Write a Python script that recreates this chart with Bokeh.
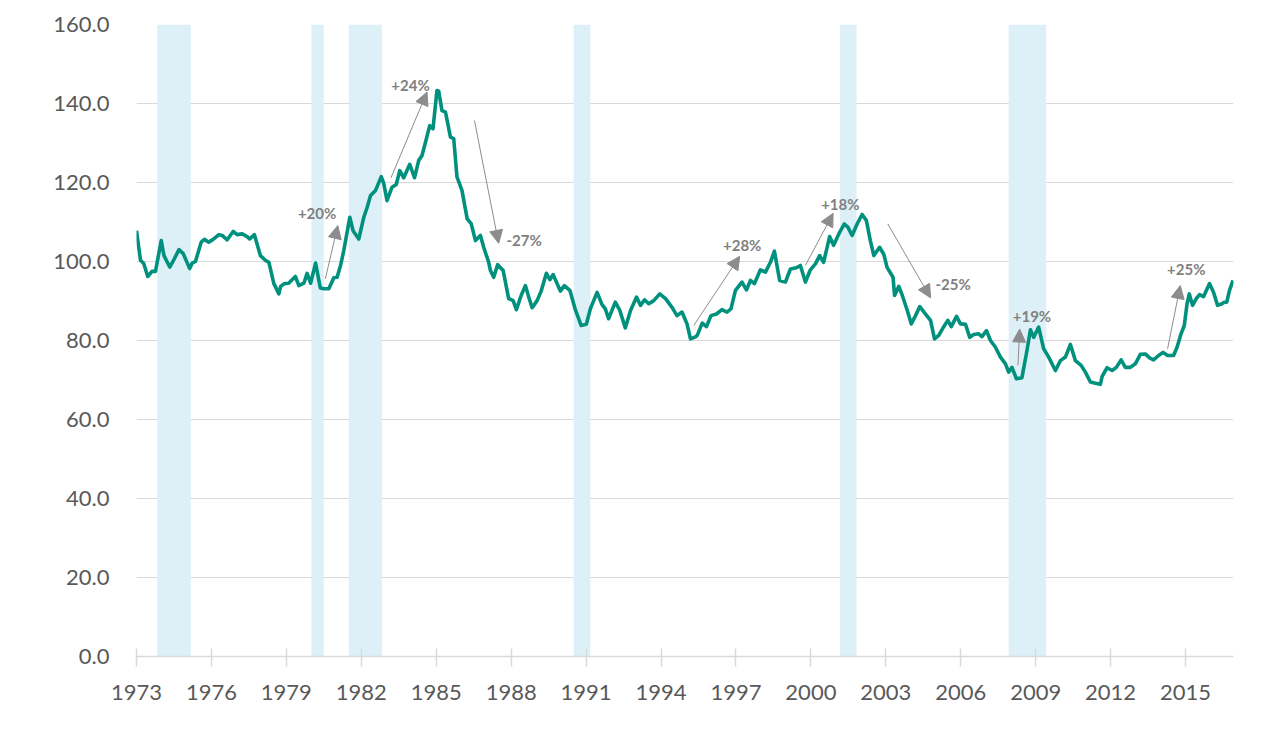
from bokeh.plotting import figure
from bokeh.models import ColumnDataSource, FixedTicker, Arrow, NormalHead, BoxAnnotation, CustomJSTickFormatter
from bokeh.core.properties import value
from bokeh.embed import file_html
from bokeh.resources import INLINE

# ---- data ----
dates = [1973.00, 1973.16, 1973.29, 1973.45, 1973.62, 1973.76, 1973.99, 1974.10, 1974.33, 1974.50,
         1974.70, 1974.87, 1975.13, 1975.23, 1975.36, 1975.59, 1975.72, 1975.89, 1976.07, 1976.30,
         1976.43, 1976.63, 1976.87, 1977.03, 1977.23, 1977.43, 1977.53, 1977.72, 1977.96, 1978.16,
         1978.30, 1978.50, 1978.70, 1978.77, 1978.92, 1979.09, 1979.36, 1979.50, 1979.70, 1979.83,
         1979.97, 1980.17, 1980.36, 1980.50, 1980.70, 1980.90, 1981.03, 1981.17, 1981.30, 1981.54,
         1981.67, 1981.90, 1982.10, 1982.23, 1982.37, 1982.57, 1982.80, 1982.90, 1983.03, 1983.23,
         1983.40, 1983.54, 1983.70, 1983.94, 1984.13, 1984.30, 1984.43, 1984.57, 1984.74, 1984.87,
         1985.03, 1985.10, 1985.23, 1985.37, 1985.57, 1985.70, 1985.83, 1986.03, 1986.24, 1986.40,
         1986.57, 1986.77, 1986.90, 1987.10, 1987.17, 1987.30, 1987.46, 1987.68, 1987.90, 1988.08,
         1988.21, 1988.40, 1988.57, 1988.70, 1988.84, 1989.04, 1989.20, 1989.41, 1989.55, 1989.68,
         1989.84, 1989.97, 1990.13, 1990.35, 1990.57, 1990.80, 1991.01, 1991.17, 1991.44, 1991.64,
         1991.77, 1991.90, 1992.17, 1992.35, 1992.57, 1992.78, 1993.02, 1993.18, 1993.34, 1993.51,
         1993.71, 1993.95, 1994.18, 1994.44, 1994.64, 1994.84, 1995.04, 1995.18, 1995.38, 1995.45,
         1995.65, 1995.82, 1996.00, 1996.22, 1996.44, 1996.64, 1996.80, 1996.98, 1997.24, 1997.42,
         1997.58, 1997.74, 1997.98, 1998.18, 1998.38, 1998.54, 1998.75, 1998.98, 1999.18, 1999.42,
         1999.58, 1999.78, 1999.98, 2000.18, 2000.35, 2000.51, 2000.75, 2000.91, 2001.15, 2001.34,
         2001.48, 2001.65, 2001.85, 2002.05, 2002.22, 2002.38, 2002.52, 2002.75, 2002.92, 2003.05,
         2003.29, 2003.35, 2003.52, 2003.66, 2003.86, 2004.02, 2004.19, 2004.36, 2004.59, 2004.79,
         2004.95, 2005.12, 2005.32, 2005.48, 2005.62, 2005.83, 2005.99, 2006.19, 2006.36, 2006.52,
         2006.72, 2006.85, 2007.03, 2007.19, 2007.39, 2007.59, 2007.79, 2007.92, 2008.05, 2008.23,
         2008.45, 2008.63, 2008.79, 2008.92, 2009.12, 2009.32, 2009.52, 2009.79, 2009.99, 2010.19,
         2010.39, 2010.59, 2010.82, 2010.99, 2011.19, 2011.39, 2011.59, 2011.66, 2011.86, 2012.06,
         2012.23, 2012.42, 2012.59, 2012.79, 2012.99, 2013.19, 2013.39, 2013.56, 2013.72, 2013.92,
         2014.10, 2014.28, 2014.52, 2014.66, 2014.82, 2014.95, 2015.06, 2015.15, 2015.28, 2015.43,
         2015.56, 2015.72, 2015.96, 2016.12, 2016.28, 2016.46, 2016.55, 2016.65, 2016.76, 2016.90]

index_values = [107.8, 100.3, 99.5, 96.2, 97.5, 97.5, 105.3, 101.5, 98.6, 100.5,
                103.0, 102.0, 98.2, 99.6, 100.0, 104.9, 105.6, 104.9, 105.6, 106.8,
                106.6, 105.5, 107.6, 106.8, 107.0, 106.3, 105.7, 106.8, 101.5, 100.3,
                99.8, 94.4, 91.8, 93.7, 94.4, 94.5, 96.2, 93.9, 94.5, 97.0,
                94.5, 99.6, 93.3, 93.1, 93.1, 95.9, 96.0, 99.0, 102.8, 111.2,
                107.8, 105.7, 111.2, 113.6, 116.7, 118.0, 121.5, 119.7, 115.4, 118.8,
                119.5, 123.0, 121.2, 124.6, 121.2, 125.6, 126.8, 130.2, 134.4, 133.6,
                143.3, 143.1, 138.2, 137.8, 131.5, 131.1, 121.4, 118.0, 110.8, 109.6,
                105.3, 106.6, 103.6, 99.8, 97.7, 96.0, 99.2, 97.7, 90.6, 90.1,
                87.8, 91.4, 93.9, 91.1, 88.3, 90.1, 92.5, 97.0, 95.4, 96.7,
                94.4, 92.5, 93.9, 92.7, 87.8, 83.8, 84.1, 88.0, 92.2, 89.1,
                88.0, 85.5, 89.7, 87.6, 83.2, 87.6, 91.0, 88.9, 90.3, 89.3,
                90.1, 91.8, 90.6, 88.4, 86.3, 87.2, 84.2, 80.4, 80.9, 81.3,
                84.4, 83.5, 86.3, 86.7, 87.8, 87.2, 88.0, 92.7, 94.8, 92.8,
                95.2, 94.4, 97.9, 97.3, 99.8, 102.6, 95.2, 94.8, 98.1, 98.4,
                99.0, 94.8, 97.9, 99.4, 101.5, 99.8, 106.3, 104.1, 107.4, 109.5,
                108.7, 106.6, 109.5, 111.9, 110.4, 105.3, 101.5, 103.6, 101.8, 98.5,
                96.0, 91.4, 93.7, 91.4, 87.6, 84.2, 86.3, 88.6, 86.7, 85.1,
                80.4, 81.3, 83.5, 85.1, 83.5, 86.1, 84.2, 84.1, 80.8, 81.5,
                81.7, 81.0, 82.5, 80.0, 78.3, 75.8, 74.1, 72.0, 73.2, 70.3,
                70.6, 76.7, 82.7, 80.8, 83.4, 77.9, 75.8, 72.4, 74.9, 75.8,
                79.0, 74.9, 73.7, 72.0, 69.5, 69.2, 68.9, 70.9, 73.1, 72.4,
                73.2, 75.1, 73.2, 73.2, 74.1, 76.5, 76.6, 75.6, 75.1, 76.2,
                77.0, 76.2, 76.2, 78.3, 81.7, 83.8, 89.3, 91.8, 88.9, 90.6,
                91.6, 91.1, 94.4, 92.2, 88.9, 89.3, 89.7, 89.7, 92.7, 95.2]

# recession periods (start, end) in decimal years
recession_start = [1973.83, 1980.00, 1981.50, 1990.50, 2001.17, 2007.92]
recession_end = [1975.17, 1980.50, 1982.83, 1991.17, 2001.83, 2009.42]

# annotated moves
move_labels = ["+20%", "+24%", "-27%", "+28%", "+18%", "-25%", "+19%", "+25%"]
arrow_from_x = [1980.56, 1983.19, 1986.53, 1995.31, 1999.78, 2003.08, 2008.29, 2014.28]
arrow_from_y = [95.6, 121.2, 135.7, 83.8, 99.0, 109.5, 73.7, 77.9]
arrow_to_x = [1981.06, 1984.63, 1987.50, 1997.15, 2000.89, 2004.79, 2008.36, 2014.79]
arrow_to_y = [109.1, 142.9, 104.6, 101.3, 112.2, 90.8, 82.9, 93.9]
label_x = [1980.23, 1983.97, 1987.81, 1997.25, 2001.18, 2004.99, 2008.85, 2015.03]
label_y = [112.2, 144.8, 105.5, 104.1, 114.6, 94.2, 86.3, 98.1]
label_align = ["center", "center", "left", "center", "center", "left", "center", "center"]

x_ticks = [1973, 1976, 1979, 1982, 1985, 1988, 1991, 1994, 1997, 2000, 2003, 2006, 2009, 2012, 2015]
y_ticks = [0, 20, 40, 60, 80, 100, 120, 140, 160]

FONT = "Lato"
TEXT_COLOR = "#595959"
GRID_COLOR = "#d9d9d9"

p = figure(width=1250, height=718, x_range=(1973, 2016.92), y_range=(0, 160),
           output_backend="svg", toolbar_location=None,
           min_border_left=136, min_border_right=17, min_border_top=24, min_border_bottom=62)
p.outline_line_color = None
p.background_fill_color = "white"
p.border_fill_color = "white"

for s, e in zip(recession_start, recession_end):
    p.add_layout(BoxAnnotation(left=s, right=e, fill_color="#ddf0f7", fill_alpha=1.0,
                               line_color=None, level="underlay"))

src = ColumnDataSource(dict(x=dates, y=index_values))
p.line("x", "y", source=src, line_color="#00917e", line_width=3.6, line_join="round")

arrow_src = ColumnDataSource(dict(x0=arrow_from_x, y0=arrow_from_y, x1=arrow_to_x, y1=arrow_to_y))
p.add_layout(Arrow(x_start="x0", y_start="y0", x_end="x1", y_end="y1", source=arrow_src,
                   line_color="#8c8c8c", line_width=1,
                   end=NormalHead(size=13, fill_color="#8c8c8c", line_color="#8c8c8c")))

lab_src = ColumnDataSource(dict(x=label_x, y=label_y, t=move_labels, a=label_align))
p.text("x", "y", text="t", source=lab_src, text_align="a", text_baseline="middle",
       text_font=value(FONT), text_font_size="15px", text_font_style="bold",
       text_color="#808080")

# axes
p.xaxis.ticker = FixedTicker(ticks=x_ticks)
p.xaxis.formatter = CustomJSTickFormatter(code="return tick.toFixed(0);")
p.xaxis.axis_line_color = GRID_COLOR
p.xaxis.axis_line_width = 1.5
p.xaxis.major_tick_line_color = GRID_COLOR
p.xaxis.major_tick_line_width = 1.5
p.xaxis.major_tick_in = 8
p.xaxis.major_tick_out = 10
p.xaxis.minor_tick_line_color = None
p.xaxis.major_label_standoff = 18
p.xaxis.major_label_text_font = FONT
p.xaxis.major_label_text_font_size = "22px"
p.xaxis.major_label_text_color = TEXT_COLOR

p.yaxis.ticker = FixedTicker(ticks=y_ticks)
p.yaxis.formatter = CustomJSTickFormatter(code="return tick.toFixed(1);")
p.yaxis.axis_line_color = None
p.yaxis.major_tick_line_color = None
p.yaxis.minor_tick_line_color = None
p.yaxis.major_label_standoff = 21
p.yaxis.major_label_text_font = FONT
p.yaxis.major_label_text_font_size = "22px"
p.yaxis.major_label_text_color = TEXT_COLOR

p.xgrid.grid_line_color = None
p.ygrid.grid_line_color = GRID_COLOR
p.ygrid.grid_line_width = 1.2
p.ygrid.ticker = FixedTicker(ticks=y_ticks)

open("out.html", "w").write(file_html(p, INLINE))
